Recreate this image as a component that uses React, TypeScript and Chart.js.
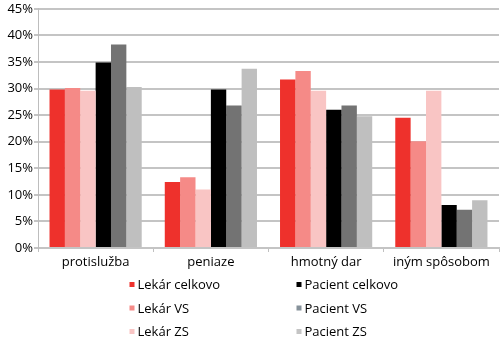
import React, { useEffect, useRef } from "react";
import { Chart, registerables } from "chart.js";

Chart.register(...registerables);

const categories = ["protislužba", "peniaze", "hmotný dar", "iným spôsobom"];
const seriesNames = ["Lekár celkovo", "Lekár VS", "Lekár ZS", "Pacient celkovo", "Pacient VS", "Pacient ZS"];
const lekarCelkovo = [29.8, 12.4, 31.7, 24.5];
const lekarVS = [30.1, 13.3, 33.3, 20.1];
const lekarZS = [29.6, 11.0, 29.6, 29.6];
const pacientCelkovo = [34.9, 29.8, 26.0, 8.1];
const pacientVS = [38.3, 26.8, 26.8, 7.2];
const pacientZS = [30.3, 33.7, 24.8, 9.0];
const seriesColors = ["#ee312c", "#f58a87", "#f9c5c4", "#000000", "#737373", "#bfbfbf"];
const legendColors = ["#ee312c", "#f58a87", "#f9c5c4", "#000000", "#86919a", "#c4c4c4"];
const yTicks = [0, 5, 10, 15, 20, 25, 30, 35, 40, 45];

const FONT = "'Open Sans', 'Noto Sans', sans-serif";

const legendPlugin = {
  id: "twoColumnLegend",
  afterDraw(chart: any) {
    const ctx = chart.ctx;
    const ds = chart.data.datasets;
    const colX = [129.5, 296.5];
    const rowY = [285.5, 309, 332.5];
    ctx.save();
    ctx.font = `13px ${FONT}`;
    ctx.textBaseline = "middle";
    ctx.textAlign = "left";
    ds.forEach((d: any, i: number) => {
      const col = Math.floor(i / 3);
      const row = i % 3;
      const x = colX[col];
      const y = rowY[row];
      ctx.fillStyle = legendColors[i];
      ctx.fillRect(x, y - 3.5, 5, 5);
      ctx.fillStyle = "#000";
      ctx.fillText(d.label, x + 8, y);
    });
    ctx.restore();
  },
};

export default function App() {
  const ref = useRef<HTMLCanvasElement>(null);
  useEffect(() => {
    if (!ref.current) return;
    const values = [lekarCelkovo, lekarVS, lekarZS, pacientCelkovo, pacientVS, pacientZS];
    const chart = new Chart(ref.current, {
      type: "bar",
      data: {
        labels: categories,
        datasets: values.map((v, i) => ({
          label: seriesNames[i],
          data: v,
          backgroundColor: seriesColors[i],
          borderWidth: 0,
          barPercentage: 1,
          categoryPercentage: 0.8,
        })),
      },
      options: {
        animation: false,
        responsive: false,
        maintainAspectRatio: false,
        layout: { padding: { top: 0, right: 1, bottom: 69, left: 0 } },
        plugins: {
          legend: { display: false },
          tooltip: { enabled: false },
        },
        scales: {
          x: {
            grid: {
              drawOnChartArea: false,
              drawTicks: true,
              tickLength: 4,
              color: "#c0c0c0",
              lineWidth: 1,
              offset: true,
            },
            border: { display: true, color: "#c4c4c4", width: 2 },
            ticks: {
              font: { family: FONT, size: 13 },
              color: "#000",
              padding: 2,
              maxRotation: 0,
            },
            afterFit(scale: any) {
              scale.height = 22;
            },
          },
          y: {
            min: 0,
            max: 45,
            afterBuildTicks(scale: any) {
              scale.ticks = yTicks.map((v) => ({ value: v }));
            },
            grid: {
              color: "#c4c4c4",
              lineWidth: 2,
              tickLength: 4,
            },
            border: { display: true, color: "#bdbdbd", width: 1 },
            ticks: {
              font: { family: FONT, size: 13 },
              color: "#000",
              padding: 1,
              callback: (v: any) => `${v}%`,
            },
            afterFit(scale: any) {
              scale.width = 38;
            },
          },
        },
      },
      plugins: [legendPlugin],
    });
    return () => chart.destroy();
  }, []);
  return (
    <div style={{ position: "absolute", left: 0, top: 0, width: 500, height: 339 }}>
      <canvas ref={ref} width={500} height={339} style={{ width: 500, height: 339 }} />
    </div>
  );
}
